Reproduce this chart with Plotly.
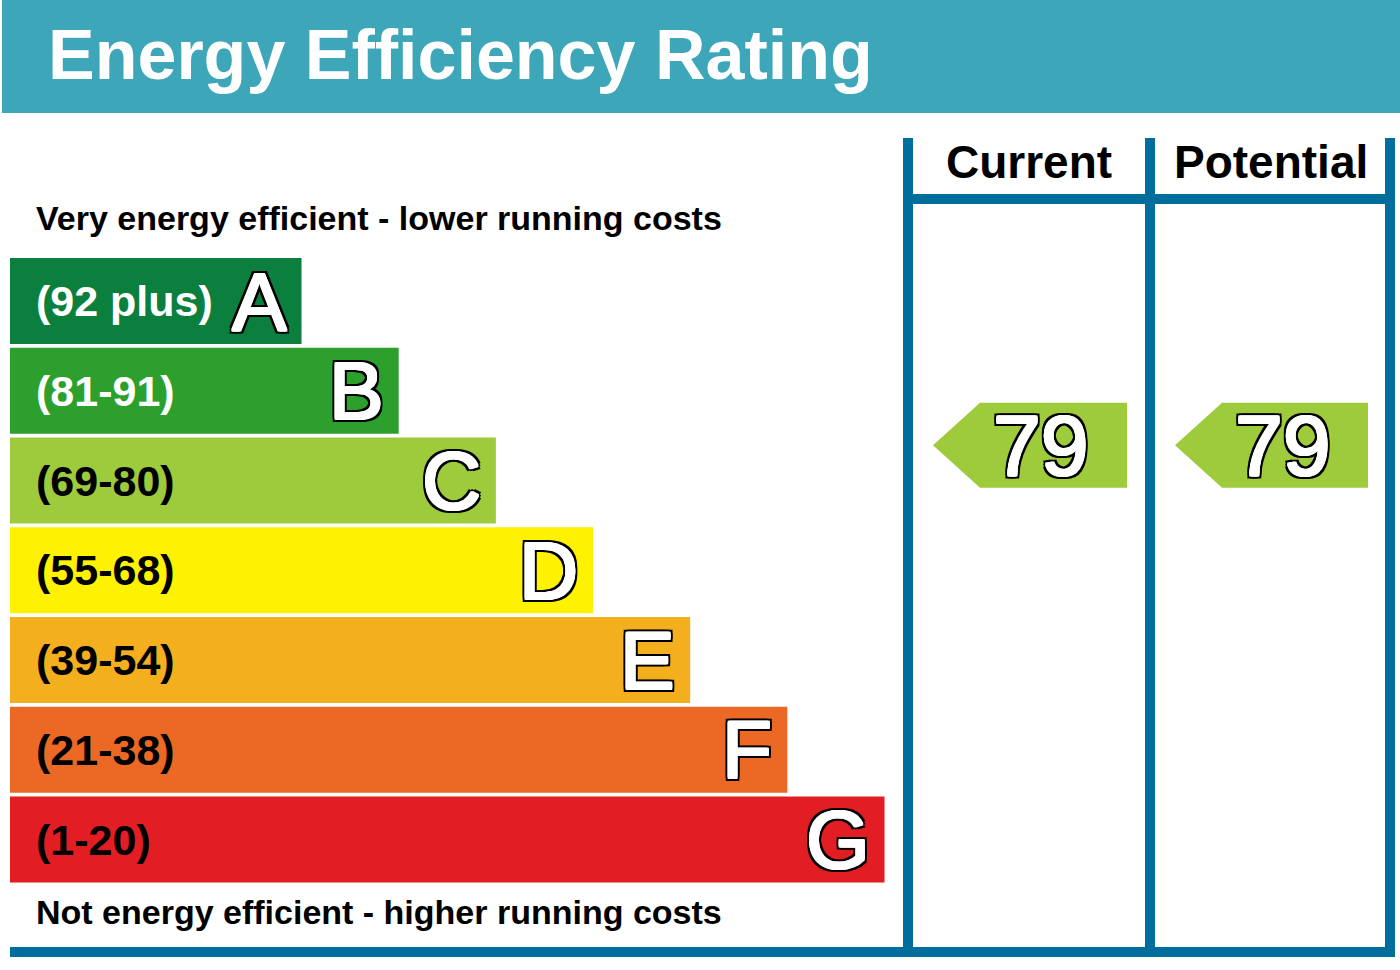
import plotly.graph_objects as go

# ---------------- data ----------------
letters = ["A", "B", "C", "D", "E", "F", "G"]
range_labels = ["(92 plus)", "(81-91)", "(69-80)", "(55-68)", "(39-54)", "(21-38)", "(1-20)"]
band_low = [92, 81, 69, 55, 39, 21, 1]
band_high = [100, 91, 80, 68, 54, 38, 20]
bar_units = [3, 4, 5, 6, 7, 8, 9]
current_rating = 79
potential_rating = 79
column_headers = ["Current", "Potential"]
title_text = "Energy Efficiency Rating"
top_note = "Very energy efficient - lower running costs"
bottom_note = "Not energy efficient - higher running costs"

# ---------------- styles ----------------
band_colors = ["#0B7F3E", "#2C9F2D", "#9DCB3C", "#FFF200", "#F4AF1E", "#EB6925", "#E31D24"]
label_colors = ["white", "white", "black", "black", "black", "black", "black"]
TEAL = "#3DA6B9"
BLUE = "#006E9C"
FONT = "Liberation Sans"

W, H = 1400, 970
X0_PX, UNIT_PX = 10.0, 97.17
ROW0_PX, ROW_PX = 301.0, 89.75
BAR_W = 0.96


def px_x(p):
    return (p - X0_PX) / UNIT_PX


def px_row(p):
    return (p - ROW0_PX) / ROW_PX


def fx(p):
    return p / W


def fy(p):
    return 1 - p / H


def ring(w, color):
    pts = [(-w, 0), (w, 0), (0, -w), (0, w), (-w, -w), (w, -w), (-w, w), (w, w)]
    return [f"{dx}px {dy}px 0px {color}" for dx, dy in pts]


def outline(inner, outer):
    # thicken the white glyph slightly, then draw a black outline around it
    return ", ".join(ring(inner, "#fff") + ring(outer, "#000") + ring(outer * 0.6, "#000"))


def band_of(v):
    for i, (lo, hi) in enumerate(zip(band_low, band_high)):
        if lo <= v <= hi:
            return i
    return len(letters) - 1


def rating_row(v):
    i = band_of(v)
    lo, hi = band_low[i], band_high[i]
    return i - BAR_W / 2 + (hi - v) / (hi - lo) * BAR_W


rows = list(range(len(letters)))

fig = go.Figure()
fig.add_trace(go.Bar(
    y=rows, x=bar_units, base=0, orientation="h", width=BAR_W,
    marker=dict(color=band_colors, line=dict(width=0)),
    hoverinfo="skip", showlegend=False,
))

annotations = []
for i in rows:
    annotations.append(dict(
        x=px_x(34), y=i, xref="x", yref="y", text=range_labels[i], showarrow=False,
        xanchor="left", yanchor="middle",
        font=dict(family=FONT, size=43, color=label_colors[i], weight="bold"),
    ))
    annotations.append(dict(
        x=bar_units[i], y=i, xref="x", yref="y", text=letters[i], showarrow=False,
        xanchor="right", yanchor="middle", xshift=-13,
        font=dict(family=FONT, size=82, color="white", shadow=outline(1, 3)),
    ))

# rating arrows (tip, body start, right end in px) per column
arrow_cols = [(933, 980, 1127), (1175, 1222, 1368)]
ratings = [current_rating, potential_rating]
half_h = 42.5 / ROW_PX
for (tip, body, right), val in zip(arrow_cols, ratings):
    yc = rating_row(val)
    col = band_colors[band_of(val)]
    xs = [px_x(tip), px_x(body), px_x(right), px_x(right), px_x(body), px_x(tip)]
    ys = [yc, yc - half_h, yc - half_h, yc + half_h, yc + half_h, yc]
    fig.add_trace(go.Scatter(
        x=xs, y=ys, mode="lines", fill="toself", fillcolor=col,
        line=dict(width=0, color=col), hoverinfo="skip", showlegend=False,
    ))
    annotations.append(dict(
        x=px_x((body + right) / 2 - 12.5), y=yc, xref="x", yref="y", text=str(val),
        showarrow=False, xanchor="center", yanchor="middle",
        font=dict(family=FONT, size=86, color="white", shadow=outline(1, 3)),
    ))

# layout texts
annotations.append(dict(
    x=fx(46), y=fy(55), xref="paper", yref="paper", text=title_text, showarrow=False,
    xanchor="left", yanchor="middle",
    font=dict(family=FONT, size=70, color="white", weight="bold"),
))
for cx, t in zip([1029, 1271], column_headers):
    annotations.append(dict(
        x=fx(cx), y=fy(162), xref="paper", yref="paper", text=t, showarrow=False,
        xanchor="center", yanchor="middle",
        font=dict(family=FONT, size=46, color="black", weight="bold"),
    ))
annotations.append(dict(
    x=fx(34), y=fy(218), xref="paper", yref="paper", text=top_note, showarrow=False,
    xanchor="left", yanchor="middle",
    font=dict(family=FONT, size=34, color="black", weight="bold"),
))
annotations.append(dict(
    x=fx(34), y=fy(912), xref="paper", yref="paper", text=bottom_note, showarrow=False,
    xanchor="left", yanchor="middle",
    font=dict(family=FONT, size=34, color="black", weight="bold"),
))


def rect(x0, y0, x1, y1, color, layer="above"):
    return dict(type="rect", xref="paper", yref="paper",
                x0=fx(x0), x1=fx(x1), y0=fy(y1), y1=fy(y0),
                fillcolor=color, line=dict(width=0), layer=layer)


shapes = [
    rect(2, 0, 1400, 113, TEAL, "below"),
    rect(903, 138, 913, 957, BLUE),
    rect(1145, 138, 1155, 957, BLUE),
    rect(1385, 138, 1395, 957, BLUE),
    rect(903, 194, 1395, 204, BLUE),
    rect(10, 947, 1395, 957, BLUE),
]

fig.update_layout(
    width=W, height=H, margin=dict(l=0, r=0, t=0, b=0),
    paper_bgcolor="white", plot_bgcolor="white", showlegend=False,
    xaxis=dict(range=[px_x(0), px_x(W)], visible=False, fixedrange=True),
    yaxis=dict(range=[px_row(H), px_row(0)], visible=False, fixedrange=True),
    annotations=annotations, shapes=shapes,
)

fig.write_html(
    "out.html",
    config={"displayModeBar": False},
    post_script="document.body.style.margin='0';document.body.style.overflow='hidden';",
)
